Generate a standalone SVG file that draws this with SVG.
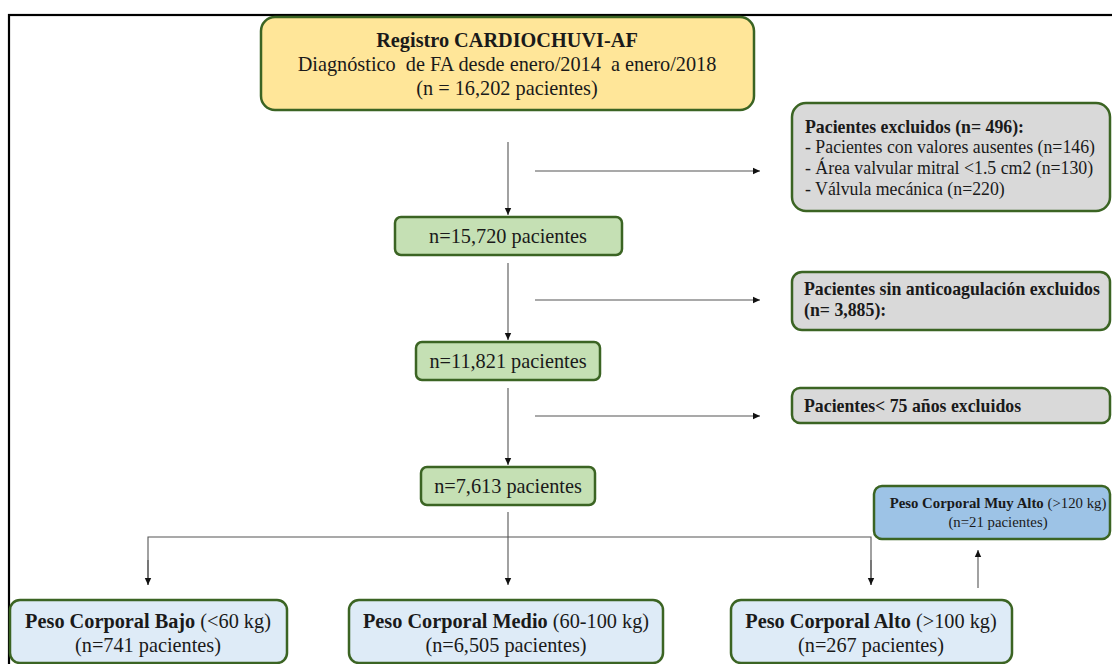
<svg xmlns="http://www.w3.org/2000/svg" width="1112" height="664" viewBox="0 0 1112 664">
  <style>
    .box { stroke: #3b6423; stroke-width: 2.5; }
    .yellow { fill: #ffe699; }
    .gray { fill: #d9d9d9; }
    .green { fill: #c5e0b4; }
    .light { fill: #deebf7; }
    .blue { fill: #9dc3e6; }
    text { font-family: "Liberation Serif", "Times New Roman", serif; fill: #1a1a1a; }
    .t20 { font-size: 20.3px; }
    .t17 { font-size: 17.8px; }
    .t14 { font-size: 14.8px; }
    .b { font-weight: bold; }
    .conn { stroke: #555; stroke-width: 1.1; fill: none; }
  </style>
  <defs>
    <marker id="arr" markerWidth="8" markerHeight="8" refX="7" refY="4" orient="auto" markerUnits="userSpaceOnUse">
      <path d="M0,0.8 L7,4 L0,7.2 Z" fill="#111"/>
    </marker>
  </defs>

  <rect width="1112" height="664" fill="#fff"/>
  <!-- outer frame -->
  <rect x="9" y="15" width="1120" height="680" fill="none" stroke="#000" stroke-width="2.2"/>

  <g id="connectors">
    <line class="conn" x1="508" y1="142" x2="508" y2="215" marker-end="url(#arr)"/>
    <line class="conn" x1="535" y1="171" x2="760" y2="171" marker-end="url(#arr)"/>
    <line class="conn" x1="508" y1="263" x2="508" y2="340" marker-end="url(#arr)"/>
    <line class="conn" x1="535" y1="300" x2="760" y2="300" marker-end="url(#arr)"/>
    <line class="conn" x1="508" y1="388" x2="508" y2="465" marker-end="url(#arr)"/>
    <line class="conn" x1="535" y1="416" x2="760" y2="416" marker-end="url(#arr)"/>
    <line class="conn" x1="508" y1="512" x2="508" y2="585" marker-end="url(#arr)"/>
    <polyline class="conn" points="148,585 148,537 871,537 871,585"/>
    <line class="conn" x1="148" y1="560" x2="148" y2="585" marker-end="url(#arr)"/>
    <line class="conn" x1="871" y1="560" x2="871" y2="585" marker-end="url(#arr)"/>
    <line class="conn" x1="978" y1="588" x2="978" y2="550" marker-end="url(#arr)"/>
  </g>

  <g id="registro">
    <rect class="box yellow" x="261" y="17" width="493" height="93" rx="14"/>
    <text class="t20 b" x="507" y="47" text-anchor="middle">Registro CARDIOCHUVI-AF</text>
    <text class="t20" x="507" y="71" text-anchor="middle" xml:space="preserve">Diagnóstico  de FA desde enero/2014  a enero/2018</text>
    <text class="t20" x="507" y="95" text-anchor="middle">(n = 16,202 pacientes)</text>
  </g>

  <g id="excluidos1">
    <rect class="box gray" x="792" y="103" width="318" height="108" rx="14"/>
    <text class="t17 b" x="805" y="133">Pacientes excluidos (n= 496):</text>
    <text class="t17" x="805" y="153">- Pacientes con valores ausentes (n=146)</text>
    <text class="t17" x="805" y="174">- Área valvular mitral &lt;1.5 cm2 (n=130)</text>
    <text class="t17" x="805" y="195">- Válvula mecánica (n=220)</text>
  </g>

  <g id="n15720">
    <rect class="box green" x="395" y="217" width="227" height="38" rx="6"/>
    <text class="t20" x="508" y="243" text-anchor="middle">n=15,720 pacientes</text>
  </g>

  <g id="excluidos2">
    <rect class="box gray" x="792" y="272" width="318" height="58" rx="10"/>
    <text class="t17 b" x="804" y="295" xml:space="preserve">Pacientes sin anticoagulación excluidos</text>
    <text class="t17 b" x="804" y="316">(n= 3,885):</text>
  </g>

  <g id="n11821">
    <rect class="box green" x="416" y="342" width="184" height="38" rx="6"/>
    <text class="t20" x="508" y="368" text-anchor="middle">n=11,821 pacientes</text>
  </g>

  <g id="excluidos3">
    <rect class="box gray" x="792" y="388" width="318" height="35" rx="8"/>
    <text class="t17 b" x="804" y="412">Pacientes&lt; 75 años excluidos</text>
  </g>

  <g id="n7613">
    <rect class="box green" x="421" y="467" width="174" height="38" rx="6"/>
    <text class="t20" x="508" y="493" text-anchor="middle">n=7,613 pacientes</text>
  </g>

  <g id="muy-alto">
    <rect class="box blue" x="874" y="486" width="236" height="53" rx="8"/>
    <text class="t14" x="998" y="508" text-anchor="middle"><tspan class="b">Peso Corporal Muy Alto</tspan> (&gt;120 kg)</text>
    <text class="t14" x="998" y="527" text-anchor="middle">(n=21 pacientes)</text>
  </g>

  <g id="bajo">
    <rect class="box light" x="10" y="600" width="277" height="63" rx="10"/>
    <text class="t20" x="148" y="628" text-anchor="middle"><tspan class="b">Peso Corporal Bajo</tspan> (&lt;60 kg)</text>
    <text class="t20" x="148" y="652" text-anchor="middle">(n=741 pacientes)</text>
  </g>

  <g id="medio">
    <rect class="box light" x="349" y="600" width="314" height="63" rx="10"/>
    <text class="t20" x="506" y="628" text-anchor="middle"><tspan class="b">Peso Corporal Medio</tspan> (60-100 kg)</text>
    <text class="t20" x="506" y="652" text-anchor="middle">(n=6,505 pacientes)</text>
  </g>

  <g id="alto">
    <rect class="box light" x="731" y="600" width="281" height="63" rx="10"/>
    <text class="t20" x="871" y="628" text-anchor="middle"><tspan class="b">Peso Corporal Alto</tspan> (&gt;100 kg)</text>
    <text class="t20" x="871" y="652" text-anchor="middle">(n=267 pacientes)</text>
  </g>
</svg>
